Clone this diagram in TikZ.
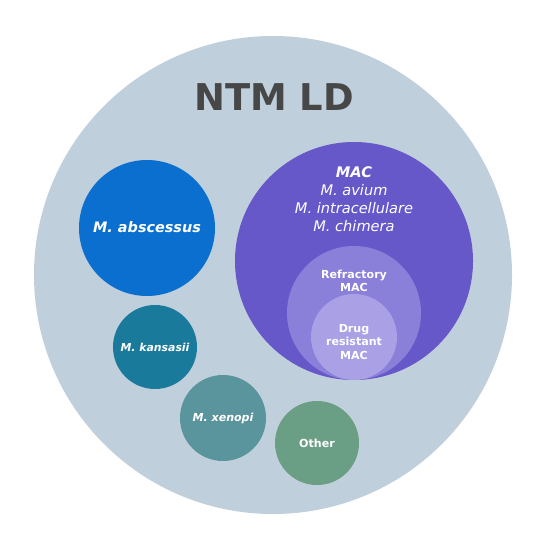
\documentclass[tikz,border=0pt]{standalone}
\usepackage{fontspec}
\setmainfont{DejaVu Sans}
\usepackage{tikz}

\definecolor{ntmgrey}{HTML}{C0CFDC}
\definecolor{macpurple}{HTML}{6658C9}
\definecolor{refpurple}{HTML}{8A7FD9}
\definecolor{drugpurple}{HTML}{A9A0E6}
\definecolor{absblue}{HTML}{0A6FCF}
\definecolor{kanteal}{HTML}{1A7A9B}
\definecolor{xenteal}{HTML}{5A949D}
\definecolor{othgreen}{HTML}{6A9E85}

\begin{document}
\begin{tikzpicture}[x=0.02cm,y=-0.02cm,
    lbl/.style={text=white,font=\bfseries\fontsize{6.3}{7.5}\selectfont,align=center,inner sep=0pt}]
        \useasboundingbox (0,0) rectangle (550,550);
        \fill[white] (0,0) rectangle (550,550);
        \fill[ntmgrey] (273,275) circle[radius=239]; % NTM LD
        \node[text=black!72,font=\bfseries\fontsize{21}{24}\selectfont] (title) at (274,97) {NTM LD};
        % MAC and its subsets
        \fill[macpurple] (354,261) circle[radius=119];
        \fill[refpurple] (354,313) circle[radius=67];
        \fill[drugpurple] (354,337) circle[radius=43];
        \node[text=white,align=center,font=\itshape\fontsize{8.3}{10.2}\selectfont] (mac) at (354,199)
            {\textbf{MAC}\\M. avium\\M. intracellulare\\M. chimera};
        \node[lbl] (refr) at (354,281) {Refractory\\MAC};
        \node[lbl] (drug) at (354,342) {Drug\\resistant\\MAC};
        % other species
        \fill[absblue] (147,228) circle[radius=68];
        \node[lbl,font=\bfseries\itshape\fontsize{8.2}{10}\selectfont] (absc) at (147,227) {M. abscessus};
        \fill[kanteal] (155,347) circle[radius=42];
        \node[lbl,font=\bfseries\itshape\fontsize{6.2}{7.5}\selectfont] (kans) at (155,347) {M. kansasii};
        \fill[xenteal] (223,418) circle[radius=43];
        \node[lbl,font=\bfseries\itshape\fontsize{6.3}{7.5}\selectfont] (xeno) at (223,418) {M. xenopi};
        \fill[othgreen] (317,443) circle[radius=42];
        \node[lbl] (other) at (317,443) {Other};
    \end{tikzpicture}
\end{document}
